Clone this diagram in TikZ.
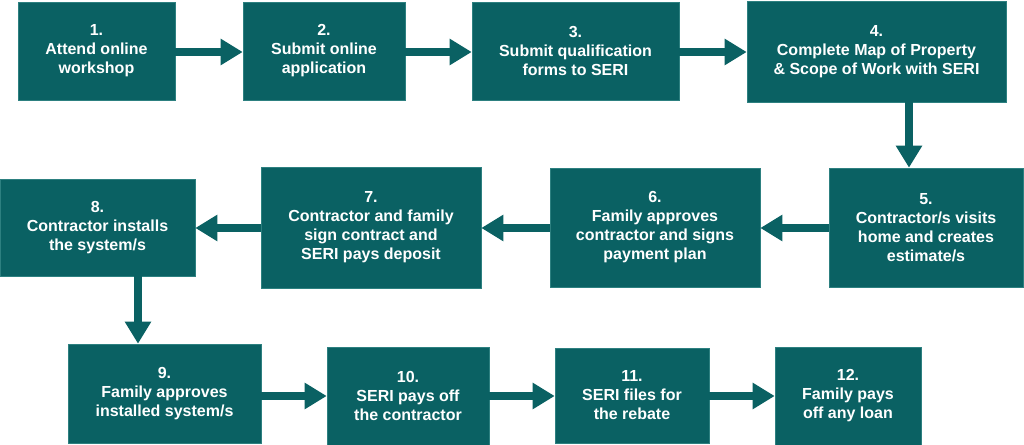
\documentclass[tikz,border=0pt]{standalone}
\usepackage{fontspec}
\setmainfont{Liberation Sans}
\usetikzlibrary{arrows.meta}
\definecolor{seri}{RGB}{10,97,99}
\definecolor{seriedge}{RGB}{45,128,128}
\tikzset{
  box/.style={rectangle, fill=seri, draw=seriedge, line width=0.6bp, inner sep=0pt,
    align=center, text=white, font=\fontsize{16bp}{19bp}\selectfont\bfseries},
  arr/.style={draw=seri, line width=8bp, -{Triangle[width=25bp,length=22bp]}}
}
\begin{document}
\begin{tikzpicture}[x=1bp,y=-1bp]
\useasboundingbox[fill=white] (0,0) rectangle (1024,445);
% row 1
\node[box, minimum width=157bp, minimum height=98bp] (b1) at (96.5,51) {1.\\Attend online\\workshop};
\node[box, minimum width=162bp, minimum height=98bp] (b2) at (324,51) {2.\\Submit online\\application};
\node[box, minimum width=207bp, minimum height=98bp] (b3) at (575.5,51) {3.\\Submit qualification\\forms to SERI};
\node[box, minimum width=259bp, minimum height=101bp] (b4) at (876.5,51.5) {4.\\Complete Map of Property\\\& Scope of Work with SERI};
% row 2
\node[box, minimum width=194bp, minimum height=119bp] (b5) at (926,227.5) {5.\\Contractor/s visits\\home and creates\\estimate/s};
\node[box, minimum width=210bp, minimum height=119bp] (b6) at (655,227.5) {6.\\Family approves\\contractor and signs\\payment plan};
\node[box, minimum width=220bp, minimum height=121bp] (b7) at (371,227.5) {7.\\Contractor and family\\sign contract and\\SERI pays deposit};
\node[box, minimum width=195bp, minimum height=97bp] (b8) at (97.5,227.5) {8.\\Contractor installs\\the system/s};
% row 3
\node[box, minimum width=193bp, minimum height=99bp] (b9) at (164.5,393.5) {9.\\Family approves\\installed system/s};
\node[box, minimum width=162bp, minimum height=98bp] (b10) at (408,396) {10.\\SERI pays off\\the contractor};
\node[box, minimum width=154bp, minimum height=95bp] (b11) at (632,395.5) {11.\\SERI files for\\the rebate};
\node[box, minimum width=146bp, minimum height=98bp] (b12) at (848,396) {12.\\Family pays\\off any loan};
% connectors
\draw[arr] (b1.east |- 0,52) -- (b2.west |- 0,52);
\draw[arr] (b2.east |- 0,52) -- (b3.west |- 0,52);
\draw[arr] (b3.east |- 0,52) -- (b4.west |- 0,52);
\draw[arr] (909,0 |- b4.south) -- (909,0 |- b5.north);
\draw[arr] (b5.west |- 0,228) -- (b6.east |- 0,228);
\draw[arr] (b6.west |- 0,228) -- (b7.east |- 0,228);
\draw[arr] (b7.west |- 0,228) -- (b8.east |- 0,228);
\draw[arr] (138,0 |- b8.south) -- (138,0 |- b9.north);
\draw[arr] (b9.east |- 0,396) -- (b10.west |- 0,396);
\draw[arr] (b10.east |- 0,396) -- (b11.west |- 0,396);
\draw[arr] (b11.east |- 0,396) -- (b12.west |- 0,396);
\end{tikzpicture}
\end{document}
